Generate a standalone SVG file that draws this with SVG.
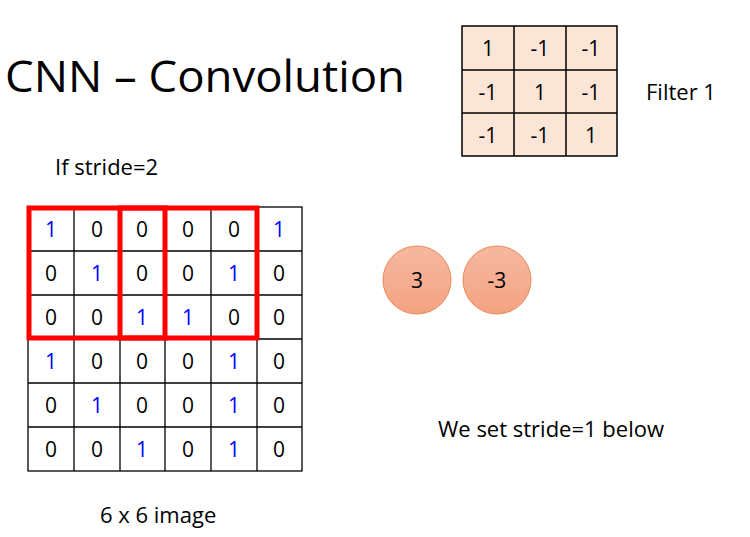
<svg xmlns="http://www.w3.org/2000/svg" width="750" height="537" viewBox="0 0 750 537">
<style>
text{font-family:"Open Sans","Liberation Sans",sans-serif;fill:#000}
.c{font-size:21px;text-anchor:middle}
.b{fill:#0000ff}
.g{fill:#fff;stroke:#000;stroke-width:1.3}
.f{fill:#fbe5d6;stroke:#000;stroke-width:1.5}
.r{fill:none;stroke:#ff0000;stroke-width:5}
.n{stroke:#ed8a55;stroke-width:1;fill:url(#gr)}
</style>
<defs><linearGradient id="gr" x1="0" y1="0" x2="0" y2="1"><stop offset="0" stop-color="#f6b8a0"/><stop offset="1" stop-color="#f4a383"/></linearGradient></defs>
<rect width="750" height="537" fill="#fff"/>
<text x="5" y="92" font-size="44" textLength="400" lengthAdjust="spacingAndGlyphs">CNN – Convolution</text>
<text x="646" y="100" font-size="22">Filter 1</text>
<text x="55" y="175" font-size="22">If stride=2</text>
<text x="438" y="437" font-size="22">We set stride=1 below</text>
<text x="100" y="523" font-size="22">6 x 6 image</text>
<g id="filter">
<rect class="f" x="462" y="26" width="155" height="130"/>
<path d="M514 26V156M566 26V156M462 70H617M462 113H617" stroke="#000" stroke-width="1.5"/>
<g class="c">
<text x="488" y="56">1</text><text x="540" y="56">-1</text><text x="591" y="56">-1</text>
<text x="488" y="100">-1</text><text x="540" y="100">1</text><text x="591" y="100">-1</text>
<text x="488" y="143">-1</text><text x="540" y="143">-1</text><text x="591" y="143">1</text>
</g></g>
<g id="image">
<rect class="g" x="28" y="207" width="274" height="264"/>
<path d="M74 207V471M120 207V471M165 207V471M211 207V471M257 207V471M28 251H302M28 295H302M28 339H302M28 383H302M28 427H302" stroke="#000" stroke-width="1.3"/>
<g class="c">
<text class="b" x="51" y="237">1</text><text x="97" y="237">0</text><text x="142" y="237">0</text><text x="188" y="237">0</text><text x="234" y="237">0</text><text class="b" x="279" y="237">1</text>
<text x="51" y="281">0</text><text class="b" x="97" y="281">1</text><text x="142" y="281">0</text><text x="188" y="281">0</text><text class="b" x="234" y="281">1</text><text x="279" y="281">0</text>
<text x="51" y="325">0</text><text x="97" y="325">0</text><text class="b" x="142" y="325">1</text><text class="b" x="188" y="325">1</text><text x="234" y="325">0</text><text x="279" y="325">0</text>
<text class="b" x="51" y="369">1</text><text x="97" y="369">0</text><text x="142" y="369">0</text><text x="188" y="369">0</text><text class="b" x="234" y="369">1</text><text x="279" y="369">0</text>
<text x="51" y="413">0</text><text class="b" x="97" y="413">1</text><text x="142" y="413">0</text><text x="188" y="413">0</text><text class="b" x="234" y="413">1</text><text x="279" y="413">0</text>
<text x="51" y="457">0</text><text x="97" y="457">0</text><text class="b" x="142" y="457">1</text><text x="188" y="457">0</text><text class="b" x="234" y="457">1</text><text x="279" y="457">0</text>
</g></g>
<g id="windows">
<rect class="r" x="29" y="208" width="136" height="130"/>
<rect class="r" x="120" y="208" width="137" height="130"/>
</g>
<g id="out1"><circle class="n" cx="417" cy="280" r="34"/><text class="c" x="417" y="288">3</text></g>
<g id="out2"><circle class="n" cx="497" cy="280" r="34"/><text class="c" x="497" y="288">-3</text></g>
<g id="connectors"/>
</svg>
